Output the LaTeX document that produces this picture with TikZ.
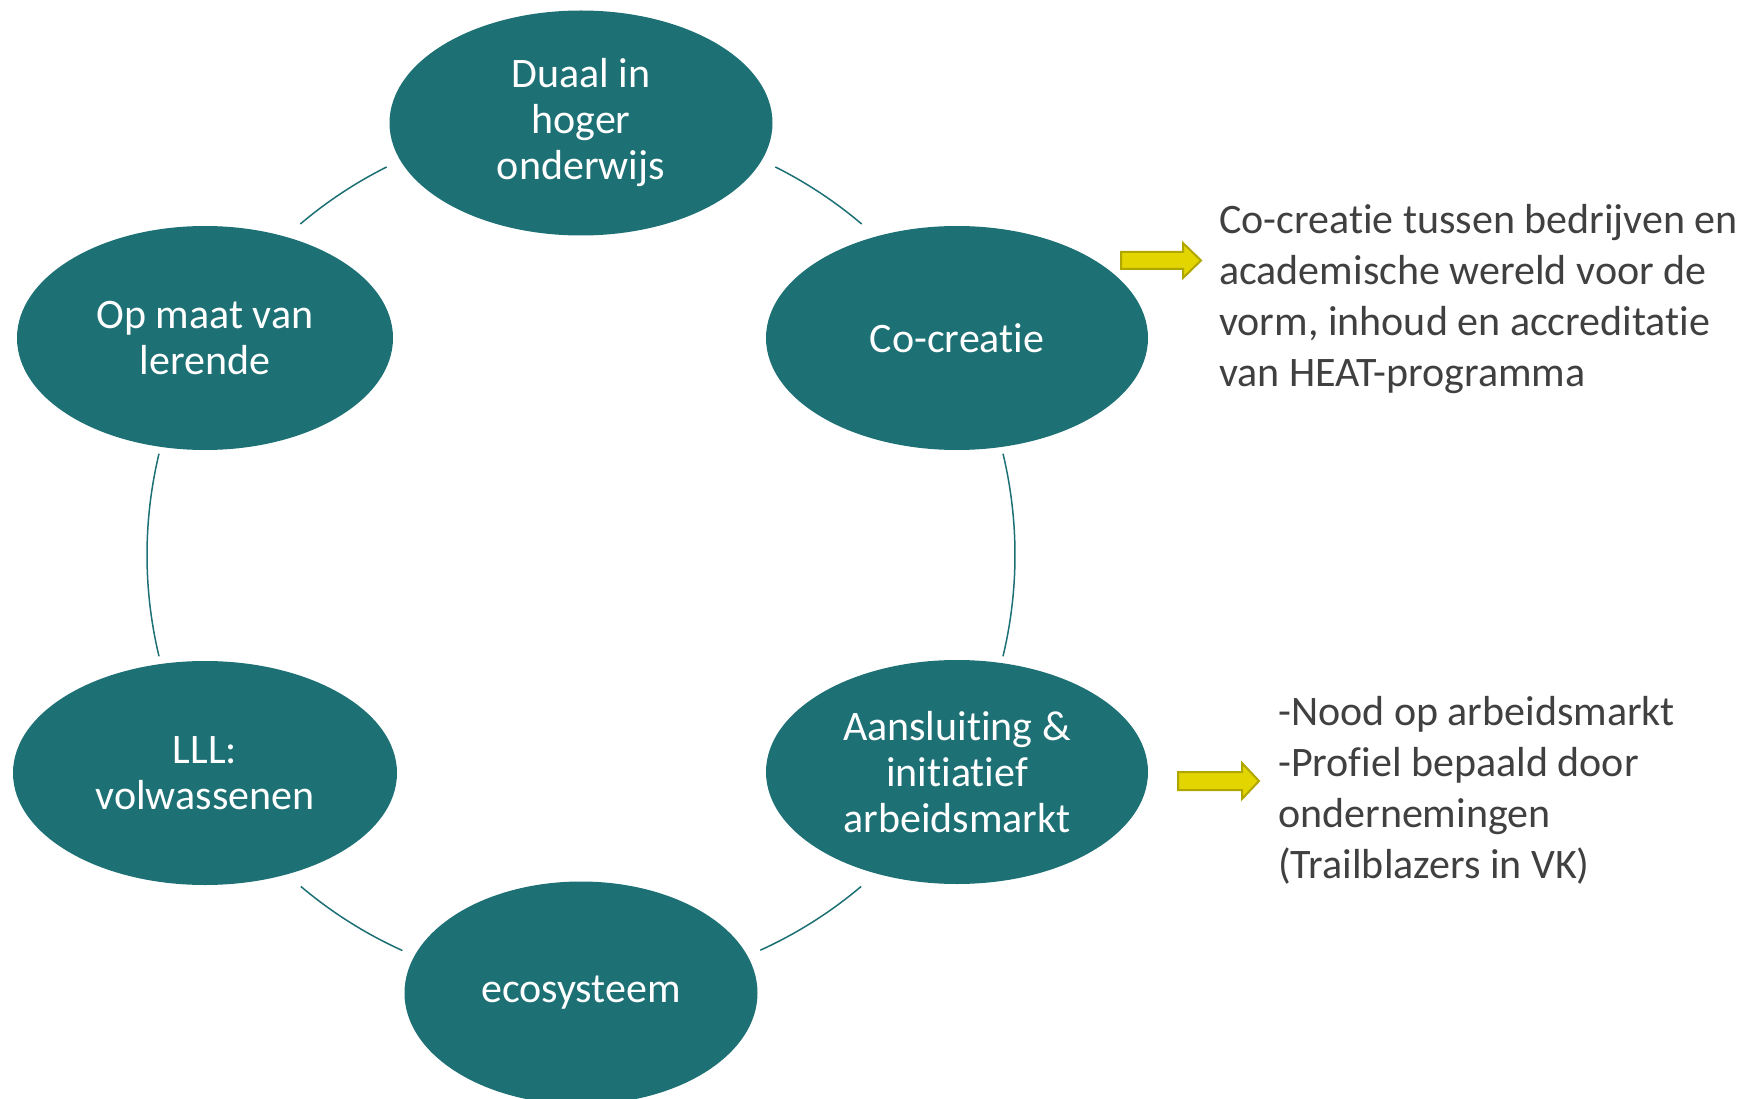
\documentclass[tikz,border=0pt]{standalone}
\usepackage{fontspec}
\setmainfont{Carlito}[Ligatures=NoCommon]
\usetikzlibrary{shapes.geometric,calc}
\definecolor{teal1}{RGB}{29,112,116}
\definecolor{ylw}{RGB}{227,214,0}
\definecolor{ylwb}{RGB}{176,166,0}
\definecolor{txt}{RGB}{64,64,64}
\begin{document}
\begin{tikzpicture}[x=1pt,y=-1pt,
  bub/.style={ellipse, fill=teal1, text=white, inner sep=0pt, align=center,
              font=\fontsize{42}{46}\selectfont},
  link/.style={draw=teal1, line width=1.5pt},
  yarrow/.style={fill=ylw, draw=ylwb, line width=2pt, line join=miter},
  side/.style={anchor=north west, align=left, text=txt, inner sep=0pt,
               font=\fontsize{42}{51}\selectfont}]
\useasboundingbox (0,0) rectangle (1762,1099);
\clip (0,0) rectangle (1762,1099);

\coordinate (c) at (581,555);

% connectors (arcs of the cycle)
\draw[link] ($(c)+({434*cos(-116.6)},{434*sin(-116.6)})$) arc[start angle=-116.6, end angle=-130.3, radius=434];
\draw[link] ($(c)+({434*cos(-63.4)},{434*sin(-63.4)})$) arc[start angle=-63.4, end angle=-49.7, radius=434];
\draw[link] ($(c)+({434*cos(-13.5)},{434*sin(-13.5)})$) arc[start angle=-13.5, end angle=13.5, radius=434];
\draw[link] ($(c)+({434*cos(49.8)},{434*sin(49.8)})$) arc[start angle=49.8, end angle=65.6, radius=434];
\draw[link] ($(c)+({434*cos(130.2)},{434*sin(130.2)})$) arc[start angle=130.2, end angle=114.3, radius=434];
\draw[link] ($(c)+({434*cos(166.5)},{434*sin(166.5)})$) arc[start angle=166.5, end angle=193.5, radius=434];

% bubbles
\node[bub, minimum width=383, minimum height=225] (duaal) at (581,123) {Duaal in\\hoger\\onderwijs};
\node[bub, minimum width=382, minimum height=224] (cocr) at (957,338) {Co-creatie};
\node[bub, minimum width=382, minimum height=224] (aans) at (957,772) {Aansluiting \&\\initiatief\\arbeidsmarkt};
\node[bub, minimum width=353, minimum height=223] (eco) at (581,993) {ecosysteem};
\node[bub, minimum width=384, minimum height=224] (lll) at (205,773) {LLL:\\volwassenen};
\node[bub, minimum width=376, minimum height=224] (opmaat) at (205,338) {Op maat van\\lerende};

% yellow arrows
\draw[yarrow] (1121,252) -- (1183,252) -- (1183,243) -- (1201,260.5) -- (1183,278) -- (1183,269) -- (1121,269) -- cycle;
\draw[yarrow] (1178,772) -- (1242,772) -- (1242,763) -- (1259,781) -- (1242,799) -- (1242,790) -- (1178,790) -- cycle;

% side texts
\node[side] (t1) at (1219,204) {Co-creatie tussen bedrijven en\\academische wereld voor de\\vorm, inhoud en accreditatie\\van HEAT-programma};
\node[side] (t2) at (1278,696) {-Nood op arbeidsmarkt\\-Profiel bepaald door\\ondernemingen\\(Trailblazers in VK)};
\end{tikzpicture}
\end{document}
